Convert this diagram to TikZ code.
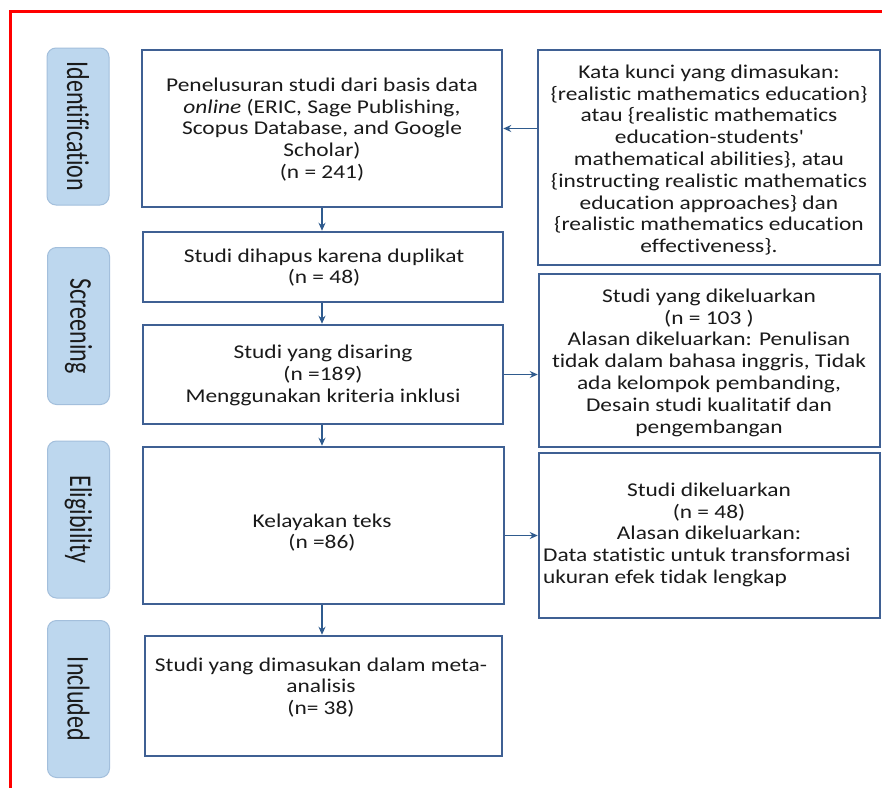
\documentclass[tikz,border=0pt]{standalone}
\usepackage{fontspec}
\usepackage{graphicx}
\setmainfont{Carlito}[FakeStretch=1.2,Ligatures={NoCommon}]
\newfontfamily\labelfont{Carlito}[Ligatures={NoCommon}]
\usetikzlibrary{arrows.meta}
\definecolor{boxblue}{HTML}{3F6093}
\definecolor{arrowblue}{HTML}{2F5B8E}
\definecolor{labelfill}{HTML}{BDD7EE}
\definecolor{labeldraw}{HTML}{A3BFDC}
\definecolor{txtc}{HTML}{1A1A1A}
\begin{document}
\begin{tikzpicture}[x=1pt,y=-1pt,
  box/.style={draw=boxblue,line width=2.5pt,inner sep=0pt},
  phase/.style={draw=labeldraw,fill=labelfill,line width=1pt,rounded corners=9pt,minimum width=62pt,minimum height=157pt,inner sep=0pt},
  body/.style={text=txtc,font=\fontsize{19.5}{21.8}\selectfont,align=center,inner sep=0pt},
  plabel/.style={text=txtc,font=\labelfont\fontsize{24}{26}\selectfont,rotate=-90,inner sep=0pt},
  arr/.style={draw=arrowblue,line width=1.8pt,-{Stealth[length=8pt,width=7pt]}}
]
\useasboundingbox (0,0) rectangle (882,787);
\fill[white] (0,0) rectangle (882,787);
\draw[red,line width=3pt] (10,800) -- (10,11) -- (895,11);

% phase labels
\node[phase] (pid) at (78,126.5) {};
\node[plabel] (pidt) at (pid.center) {\scalebox{1}[1.32]{Identification}};
\node[phase] (psc) at (78.5,326) {};
\node[plabel] (psct) at (psc.center) {\scalebox{1}[1.32]{Screening}};
\node[phase] (pel) at (78.5,519.5) {};
\node[plabel] (pelt) at (pel.center) {\scalebox{1}[1.32]{Eligibility}};
\node[phase] (pin) at (78.5,699) {};
\node[plabel] (pint) at (pin.center) {\scalebox{1}[1.32]{Included}};

% boxes
\node[box,minimum width=360pt,minimum height=157pt] (b1) at (322,128.5) {};
\node[box,minimum width=342pt,minimum height=215pt] (kw) at (709,157.5) {};
\node[box,minimum width=360pt,minimum height=70pt] (b2) at (323,267) {};
\node[box,minimum width=360pt,minimum height=99pt] (b3) at (323,374.5) {};
\node[box,minimum width=341pt,minimum height=173pt] (ex1) at (709.5,360.5) {};
\node[box,minimum width=361pt,minimum height=157pt] (b4) at (323.5,525.5) {};
\node[box,minimum width=341pt,minimum height=165pt] (ex2) at (709.5,535.5) {};
\node[box,minimum width=357pt,minimum height=120pt] (b5) at (323.5,696) {};

% texts
\node[body] (b1t) at (322,129.5) {Penelusuran studi dari basis data\\\textit{online} (ERIC, Sage Publishing,\\Scopus Database, and Google\\Scholar)\\(n = 241)};
\node[body] (kwt) at (709,160) {Kata kunci yang dimasukan:\\\{realistic mathematics education\}\\atau \{realistic mathematics\\education-students\textquotesingle\\mathematical abilities\}, atau\\\{instructing realistic mathematics\\education approaches\} dan\\\{realistic mathematics education\\effectiveness\}.};
\node[body] (b2t) at (324,267.5) {Studi dihapus karena duplikat\\(n = 48)};
\node[body] (b3t) at (323,375.5) {Studi yang disaring\\(n =189)\\Menggunakan kriteria inklusi};
\node[body] (ex1t) at (709,362.5) {Studi yang dikeluarkan\\(n = 103 )\\Alasan dikeluarkan: Penulisan\\tidak dalam bahasa inggris, Tidak\\ada kelompok pembanding,\\Desain studi kualitatif dan\\pengembangan};
\node[body] (b4t) at (322,532.5) {Kelayakan teks\\(n =86)};
\node[body,anchor=north] (ex2t) at (709,482.5) {Studi dikeluarkan\\(n = 48)\\Alasan dikeluarkan:};
\node[body,anchor=north west,align=left] (ex2u) at (543,548) {Data statistic untuk transformasi\\ukuran efek tidak lengkap};
\node[body] (b5t) at (321,687.5) {Studi yang dimasukan dalam meta-\\analisis\\(n= 38)};

% arrows
\draw[arr] (b1.south) -- (b1.south |- b2.north);
\draw[arr] (b1.south |- b2.south) -- (b1.south |- b3.north);
\draw[arr] (b1.south |- b3.south) -- (b1.south |- b4.north);
\draw[arr] (b1.south |- b4.south) -- (b1.south |- b5.north);
\draw[arr] (kw.west |- b1.east) -- (b1.east);
\draw[arr] (b3.east) -- (b3.east -| ex1.west);
\draw[arr] (b4.east |- ex2.west) -- (ex2.west);
\end{tikzpicture}
\end{document}
